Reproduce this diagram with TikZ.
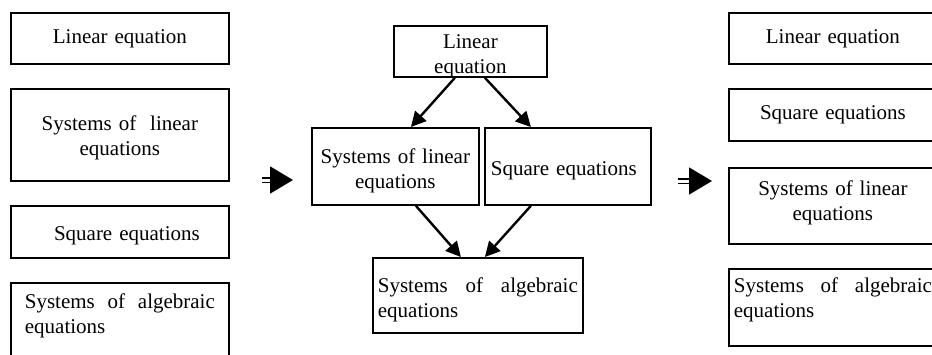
\documentclass[tikz,border=0pt]{standalone}
\usepackage{fontspec}
\setmainfont{Liberation Serif}
\usetikzlibrary{arrows.meta}
\tikzset{
  box/.style={draw,line width=1.8pt,anchor=north west,inner ysep=0pt,inner xsep=4pt,align=center,font=\fontsize{21}{24.5}\selectfont},
  leftbox/.style={box,inner xsep=14pt,text width=190pt},
  rightbox/.style={box,inner xsep=5pt,text width=198pt},
  arr/.style={-{Triangle[length=15pt,width=15pt]},line width=2.4pt},
  fatarr/.style={-{Triangle[length=23pt,width=27pt,fill=black]},double,double distance=3pt,line width=1.6pt}
}

\begin{document}
\begin{tikzpicture}[x=1pt,y=-1pt]
  \useasboundingbox (0,0) rectangle (932,354);
  \clip (0,0) rectangle (932,354);
  % left column
  \node[leftbox,text height=30.5pt,text depth=20.5pt] (linL) at (10,12) {Linear equation};
  \node[leftbox,text height=42pt,text depth=50pt] (sysLinL) at (10,88) {Systems of~ linear\\equations};
  \node[leftbox,text height=35pt,text depth=17pt] (sqrL) at (10,205) {\hspace*{14pt}Square equations};
  \node[leftbox,align=left,text height=26pt,text depth=90pt] (sysAlgL) at (10,282) {Systems\hfill of\hfill algebraic\\equations};
  % middle
  \node[box,text width=145pt,text height=23pt,text depth=28pt] (linM) at (393,25) {Linear\\equation};
  \node[box,text width=159pt,text height=36pt,text depth=41pt] (sysLinM) at (311,127) {Systems of linear\\equations};
  \node[box,inner xsep=6pt,text width=154pt,align=left,text height=48pt,text depth=29pt] (sqrM) at (484,127) {Square equations};
  \node[box,inner xsep=5pt,text width=200pt,align=left,text height=35pt,text depth=40pt] (sysAlgM) at (372,257) {Systems\hfill of\hfill algebraic\\equations};
  \draw[arr] ([xshift=-15.5pt]linM.south) -- ([xshift=15.5pt]sysLinM.north);
  \draw[arr] ([xshift=14.5pt]linM.south) -- ([xshift=-37pt]sqrM.north);
  \draw[arr] ([xshift=20.5pt]sysLinM.south) -- ([xshift=-17pt]sysAlgM.north);
  \draw[arr] ([xshift=-37pt]sqrM.south) -- ([xshift=7pt]sysAlgM.north);
  % right column
  \node[rightbox,text height=30.5pt,text depth=20.5pt] (linR) at (728,12) {Linear equation};
  \node[rightbox,text height=31pt,text depth=21pt] (sqrR) at (728,88) {Square equations};
  \node[rightbox,text height=28pt,text depth=48pt] (sysLinR) at (728,167) {Systems of linear\\equations};
  \node[rightbox,align=left,text height=24pt,text depth=53pt] (sysAlgR) at (728,268) {Systems\hfill of\hfill algebraic\\equations};
  % transitions
  \coordinate (fromL) at (262,180);
  \coordinate (toM) at (293,180);
  \coordinate (fromM) at (678,181);
  \coordinate (toR) at (712,181);
  \draw[fatarr] (fromL) -- (toM);
  \draw[fatarr] (fromM) -- (toR);
\end{tikzpicture}
\end{document}
